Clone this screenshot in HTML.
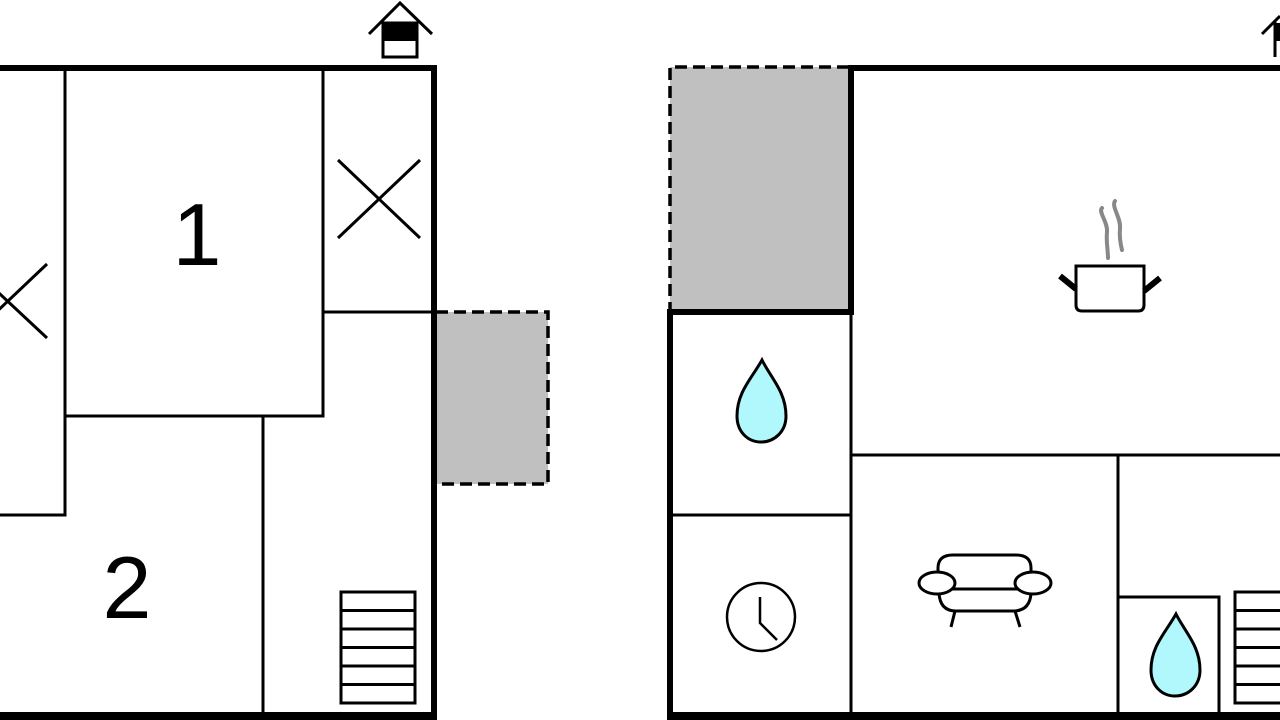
<!DOCTYPE html>
<html><head><meta charset="utf-8"><style>
html,body{margin:0;padding:0;background:#fff;width:1280px;height:720px;overflow:hidden}
svg{display:block}
text{font-family:"Liberation Sans",sans-serif}
</style></head><body>
<svg width="1280" height="720" viewBox="0 0 1280 720" xmlns="http://www.w3.org/2000/svg">
<g stroke="#000" fill="none" stroke-linecap="butt">
<!-- LEFT PLAN -->
<rect x="436" y="312" width="112" height="172" fill="#c0c0c0" stroke="none"/>
<path d="M436 312H548V484H436" stroke-width="3.5" stroke-dasharray="12,6"/>
<path d="M0 68H434V720" stroke-width="6"/>
<path d="M0 716H434" stroke-width="8"/>
<g stroke-width="3">
<path d="M65 68V515H0"/>
<path d="M323 68V416H65"/>
<path d="M323 312H432"/>
<path d="M263 416V716"/>
<path d="M338 160L420 238M420 160L338 238"/>
<path d="M-31 265L47 338M47 264L-31 338"/>
<rect x="341" y="592" width="74" height="111"/>
<path d="M341 610.5H415M341 629H415M341 647.5H415M341 666H415M341 684.5H415"/>
</g>
<!-- house icon -->
<path d="M369 34L400 3L432 34" stroke-width="3"/>
<rect x="383" y="23" width="34" height="34" stroke-width="3" fill="#fff"/>
<rect x="383" y="23" width="34" height="18" fill="#000" stroke="none"/>

<!-- RIGHT PLAN -->
<rect x="670" y="67" width="179" height="243" fill="#c0c0c0" stroke="none"/>
<path d="M849 67H670V312" stroke-width="3.5" stroke-dasharray="12,6"/>
<path d="M1280 68H851V312H670V720" stroke-width="6"/>
<path d="M670 716H1280" stroke-width="8"/>
<g stroke-width="3">
<path d="M851 312V716"/>
<path d="M672 515H851"/>
<path d="M851 455H1280"/>
<path d="M1118 455V716"/>
<path d="M1118 597H1219V716"/>
<rect x="1235" y="592" width="60" height="111"/>
<path d="M1235 610.5H1280M1235 629H1280M1235 647.5H1280M1235 666H1280M1235 684.5H1280"/>
</g>
<!-- small house icon top right -->
<path d="M1262 34L1280 16" stroke-width="3"/>
<path d="M1275 57V22" stroke-width="3"/>
<rect x="1275" y="23" width="6" height="18" fill="#000" stroke="none"/>
<!-- drops -->
<path d="M762 360C752 378 737 392 737 416C737 432 748 442 761 442C774 442 786 432 786 416C786 392 771 378 762 360Z" fill="#b0f8fb" stroke-width="3"/>
<path d="M1176 614C1166 632 1151 646 1151 670C1151 686 1162 696 1175 696C1188 696 1200 686 1200 670C1200 646 1185 632 1176 614Z" fill="#b0f8fb" stroke-width="3"/>
<!-- clock -->
<circle cx="761" cy="617" r="34" stroke-width="2.5"/>
<path d="M760 597V623L777 640" stroke-width="2.5"/>
<!-- pot -->
<path d="M1102 208C1098 212 1108 222 1107 232C1106 242 1108 250 1108 258" stroke="#888" stroke-width="4" stroke-linecap="round"/>
<path d="M1115 201C1111 206 1121 218 1120 228C1119 238 1121 246 1122 250" stroke="#888" stroke-width="4" stroke-linecap="round"/>
<path d="M1076 266H1144V305Q1144 311 1138 311H1082Q1076 311 1076 305Z" stroke-width="3"/>
<path d="M1060 276L1076 289M1160 278L1144 291" stroke-width="6"/>
<!-- sofa -->
<g stroke-width="3">
<path d="M938 578V568Q938 555 953 555H1016Q1031 555 1031 568V578"/>
<ellipse cx="937" cy="583" rx="18" ry="11" fill="#fff"/>
<ellipse cx="1033" cy="583" rx="18" ry="11" fill="#fff"/>
<path d="M952 589H1018"/>
<path d="M939 593Q940 611 956 611H1013Q1030 611 1031 593"/>
<path d="M955 611L951 627M1015 611L1020 627"/>
</g>
</g>
<text x="197" y="265" font-size="88" text-anchor="middle">1</text>
<text x="127" y="618" font-size="88" text-anchor="middle">2</text>
</svg>
</body></html>
